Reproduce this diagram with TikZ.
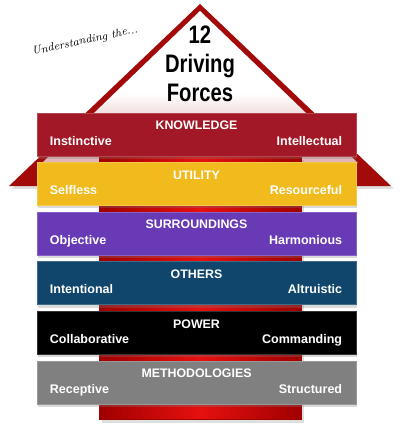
\documentclass[tikz,border=0pt]{standalone}
\usepackage{fontspec}
\setsansfont{Liberation Sans}
\usetikzlibrary{shadows}

\definecolor{roofred}{HTML}{A30B0B}
\definecolor{roofpink}{HTML}{E3B3B6}
\definecolor{knowledgecol}{HTML}{A21826}
\definecolor{utilitycol}{HTML}{F1BA1D}
\definecolor{surroundcol}{HTML}{693AB6}
\definecolor{otherscol}{HTML}{10466C}
\definecolor{powercol}{HTML}{000000}
\definecolor{methodcol}{HTML}{808080}
\definecolor{colbright}{HTML}{E61010}
\definecolor{coldark}{HTML}{A00000}

\pgfdeclareverticalshading{roofshade}{100bp}{color(0bp)=(roofpink); color(25bp)=(roofpink);
  color(38bp)=(roofpink!65!white); color(48bp)=(white); color(100bp)=(white)}

\newcommand{\narrow}[1]{\scalebox{0.8}[1]{#1}}

\tikzset{
  forcebar/.style={minimum width=7.975cm, minimum height=1.075cm, fill=#1,
    draw=#1!80!white, line width=0.5pt,
    drop shadow={shadow xshift=1pt, shadow yshift=-2pt, opacity=0.3}},
  head/.style={text=white, inner sep=0pt, anchor=base,
    font=\sffamily\bfseries\fontsize{8.8}{10}\selectfont},
  side/.style={text=white, inner sep=0pt,
    font=\sffamily\bfseries\fontsize{8.9}{10}\selectfont}
}

\begin{document}
\begin{tikzpicture}[x=0.025cm, y=-0.025cm]
\useasboundingbox (0,0) rectangle (400,441);

% roof
\fill[roofred, drop shadow={shadow xshift=2pt, shadow yshift=-2pt, opacity=0.25}]
  (200,4) -- (9,186) -- (391,186) -- cycle;
\shade[shading=roofshade] (200,11) -- (42,163) -- (358,163) -- cycle;

% house body
\shade[left color=coldark, right color=coldark, middle color=colbright, draw=coldark,
  drop shadow={shadow xshift=2pt, shadow yshift=-3pt, opacity=0.25}]
  (99,156) rectangle (301,419);

\node[rotate=12, font=\rmfamily\itshape\fontsize{8}{9}\selectfont] (understanding)
  at (85,41) {Understanding the...};
\node[align=center, font=\sffamily\bfseries\fontsize{18}{20.6}\selectfont] (title)
  at (200,64) {\narrow{12}\\\narrow{Driving}\\\narrow{Forces}};

% the six bars
\node[forcebar=knowledgecol] (knowledge) at (196.5,134.5) {};
\node[head] at ([yshift=-0.425cm]knowledge.north) {KNOWLEDGE};
\node[side, anchor=base west] at ([xshift=0.325cm, yshift=-0.2625cm]knowledge.west) {Instinctive};
\node[side, anchor=base east] at ([xshift=-0.35cm, yshift=-0.2625cm]knowledge.east) {Intellectual};

\node[forcebar=utilitycol] (utility) at (196.5,184.1) {};
\node[head] at ([yshift=-0.425cm]utility.north) {UTILITY};
\node[side, anchor=base west] at ([xshift=0.325cm, yshift=-0.2625cm]utility.west) {Selfless};
\node[side, anchor=base east] at ([xshift=-0.35cm, yshift=-0.2625cm]utility.east) {Resourceful};

\node[forcebar=surroundcol] (surroundings) at (196.5,233.7) {};
\node[head] at ([yshift=-0.425cm]surroundings.north) {SURROUNDINGS};
\node[side, anchor=base west] at ([xshift=0.325cm, yshift=-0.2625cm]surroundings.west) {Objective};
\node[side, anchor=base east] at ([xshift=-0.35cm, yshift=-0.2625cm]surroundings.east) {Harmonious};

\node[forcebar=otherscol] (others) at (196.5,283.3) {};
\node[head] at ([yshift=-0.425cm]others.north) {OTHERS};
\node[side, anchor=base west] at ([xshift=0.325cm, yshift=-0.2625cm]others.west) {Intentional};
\node[side, anchor=base east] at ([xshift=-0.35cm, yshift=-0.2625cm]others.east) {Altruistic};

\node[forcebar=powercol] (power) at (196.5,332.9) {};
\node[head] at ([yshift=-0.425cm]power.north) {POWER};
\node[side, anchor=base west] at ([xshift=0.325cm, yshift=-0.2625cm]power.west) {Collaborative};
\node[side, anchor=base east] at ([xshift=-0.35cm, yshift=-0.2625cm]power.east) {Commanding};

\node[forcebar=methodcol] (methodologies) at (196.5,382.5) {};
\node[head] at ([yshift=-0.425cm]methodologies.north) {METHODOLOGIES};
\node[side, anchor=base west] at ([xshift=0.325cm, yshift=-0.2625cm]methodologies.west) {Receptive};
\node[side, anchor=base east] at ([xshift=-0.35cm, yshift=-0.2625cm]methodologies.east) {Structured};
\end{tikzpicture}
\end{document}
